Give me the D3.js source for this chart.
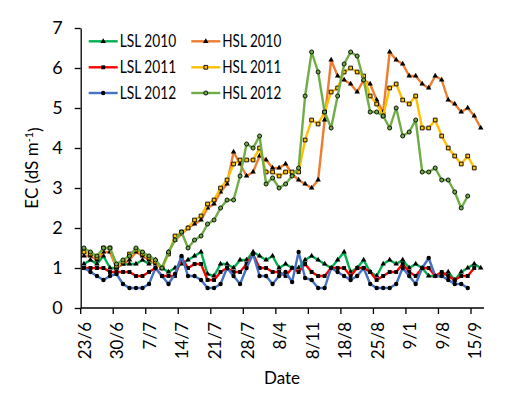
<!DOCTYPE html>
<html>
<head>
<meta charset="utf-8">
<script src="https://cdn.jsdelivr.net/npm/d3@7"></script>
<style>
  html, body { margin: 0; padding: 0; background: #fff; }
  #plot { width: 530px; height: 398px; }
  #plot text { font-family: Lato, "Open Sans", sans-serif; fill: #000; }
</style>
</head>
<body>
<div id="plot"></div>
<script>
// tick labels, one every 5 sampling days
var tickLabels = ["23/6", "30/6", "7/7", "14/7", "21/7", "28/7", "8/4", "8/11", "18/8", "25/8", "9/1", "9/8", "15/9"];
var nDays = 62;

// EC values (dS m-1), one per sampling day
var lsl2010 = [1.1, 1.2, 1.1, 1.3, 1.0, 1.0, 1.1, 1.1, 1.1, 1.2,
               1.1, 1.2, 1.0, 0.9, 1.0, 1.1, 1.2, 1.3, 1.4, 0.85,
               0.8, 1.1, 1.1, 1.0, 1.2, 1.2, 1.4, 1.3, 1.2, 1.3,
               1.0, 1.1, 1.0, 1.0, 1.2, 1.3, 1.2, 1.1, 1.0, 1.2,
               1.4, 0.9, 1.0, 1.2, 0.9, 0.8, 1.1, 1.2, 1.1, 1.2,
               1.0, 1.1, 1.0, 0.8, 0.8, 0.8, 0.9, 0.7, 0.9, 1.0,
               1.1, 1.0];
var lsl2011 = [1.0, 1.0, 1.0, 1.0, 0.9, 0.9, 0.9, 0.9, 0.8, 0.8,
               0.9, 1.0, 0.8, 0.8, 0.8, 1.25, 1.0, 1.1, 1.1, 0.7,
               0.7, 0.9, 1.0, 0.9, 0.9, 1.1, 1.35, 1.0, 1.0, 0.9,
               0.9, 0.8, 1.0, 0.9, 1.1, 0.9, 0.8, 0.8, 1.0, 1.0,
               1.0, 0.8, 1.0, 1.0, 0.9, 0.7, 0.8, 0.9, 0.9, 1.1,
               0.9, 0.8, 1.0, 1.0, 0.8, 0.9, 0.8, 0.7, 0.8, 0.8,
               1.0];
var lsl2012 = [1.0, 0.9, 0.8, 0.7, 0.8, 0.85, 0.6, 0.5, 0.5, 0.5,
               0.6, 1.0, 0.8, 0.6, 0.85, 1.3, 0.8, 0.8, 0.7, 0.5,
               0.5, 0.6, 1.0, 0.8, 0.6, 1.0, 1.35, 0.8, 0.8, 0.6,
               0.8, 0.9, 0.65, 1.4, 0.75, 0.7, 0.5, 0.5, 1.0, 0.9,
               0.8, 0.7, 0.8, 1.0, 0.6, 0.5, 0.5, 0.5, 0.6, 1.0,
               0.8, 0.6, 1.0, 1.25, 0.8, 0.8, 0.7, 0.6, 0.6, 0.5];
var hsl2010 = [1.3, 1.3, 1.2, 1.4, 1.4, 1.0, 1.1, 1.2, 1.4, 1.3,
               1.2, 1.1, 1.0, 1.4, 1.7, 1.85, 2.0, 2.1, 2.2, 2.5,
               2.6, 2.9, 3.1, 3.9, 3.6, 3.3, 3.4, 3.8, 3.7, 3.5,
               3.5, 3.6, 3.35, 3.2, 3.1, 3.0, 3.2, 4.7, 6.2, 5.8,
               5.7, 5.6, 5.4, 5.7, 5.6, 5.2, 4.9, 6.4, 6.2, 6.1,
               5.8, 5.8, 5.6, 5.5, 5.8, 5.7, 5.2, 5.1, 4.9, 5.0,
               4.8, 4.5];
var hsl2011 = [1.4, 1.35, 1.25, 1.5, 1.5, 1.05, 1.15, 1.35, 1.45, 1.35,
               1.25, 1.15, 1.0, 1.35, 1.8, 1.9, 2.0, 2.2, 2.3, 2.6,
               2.7, 3.0, 3.2, 3.6, 3.7, 3.7, 3.7, 4.0, 3.4, 3.4,
               3.3, 3.4, 3.4, 3.4, 4.2, 4.7, 4.6, 4.9, 5.4, 5.5,
               5.9, 6.0, 5.9, 5.8, 5.3, 5.1, 4.8, 5.5, 5.6, 5.2,
               5.1, 5.3, 4.5, 4.5, 4.7, 4.3, 4.0, 3.8, 3.6, 3.8,
               3.5];
var hsl2012 = [1.5, 1.4, 1.3, 1.5, 1.5, 1.1, 1.2, 1.3, 1.5, 1.4,
               1.3, 1.2, 1.0, 1.4, 1.7, 1.9, 1.5, 1.7, 1.8, 2.1,
               2.2, 2.5, 2.7, 2.7, 3.3, 4.1, 4.0, 4.3, 3.1, 3.25,
               3.0, 3.1, 3.3, 3.5, 5.3, 6.4, 5.9, 4.9, 4.5, 5.3,
               6.1, 6.4, 6.3, 5.7, 4.9, 4.9, 4.8, 4.5, 5.0, 4.3,
               4.4, 4.7, 3.4, 3.4, 3.5, 3.2, 3.2, 2.9, 2.5, 2.8];

var seriesNames = ["LSL 2010", "LSL 2011", "LSL 2012", "HSL 2010", "HSL 2011", "HSL 2012"];
var seriesValues = [lsl2010, lsl2011, lsl2012, hsl2010, hsl2011, hsl2012];
var seriesColors = ["#00B050", "#FF0000", "#4472C4", "#ED7D31", "#FFC000", "#70AD47"];

// marker style per series
var markers = [
    {type: d3.symbolTriangle, size: 13, fill: "#000", stroke: "none"},
    {type: d3.symbolSquare, size: 15, fill: "#000", stroke: "none"},
    {type: d3.symbolCircle, size: 15, fill: "#000", stroke: "none"},
    {type: d3.symbolTriangle, size: 13, fill: "#000", stroke: "none"},
    {type: d3.symbolSquare, size: 14, fill: "#FFC000", stroke: "#000"},
    {type: d3.symbolCircle, size: 13, fill: "#70AD47", stroke: "#000"}
];

var width = 530, height = 398;
var svg = d3.select("#plot").append("svg")
    .attr("width", width)
    .attr("height", height);

svg.append("rect").attr("width", width).attr("height", height).style("fill", "#fff");

var x = d3.scaleBand()
    .domain(d3.range(nDays))
    .range([80.7, 484]);
var bw = x.bandwidth();
var y = d3.scaleLinear().domain([0, 7]).range([308, 28]);

function cx(i) { return x(i) + bw / 2; }

// y axis
var yAxis = svg.append("g")
    .attr("transform", "translate(80.7,0)")
    .call(d3.axisLeft(y).ticks(7).tickSize(6).tickSizeOuter(0).tickPadding(12));
yAxis.select(".domain").style("stroke", "#000").style("stroke-width", 1.3);
yAxis.selectAll(".tick line").style("stroke", "#000").style("stroke-width", 1.3);
yAxis.selectAll(".tick text")
    .style("font-size", "18px")
    .style("font-family", "Lato, sans-serif");

// x axis : ticks on category boundaries, labels on category centres
var tickIdx = d3.range(0, nDays, 5);
var xg = svg.append("g");
xg.append("line")
    .attr("x1", 80.7).attr("x2", 484)
    .attr("y1", 308).attr("y2", 308)
    .style("stroke", "#000").style("stroke-width", 1.3);
xg.selectAll(".xtick")
    .data(tickIdx)
    .enter().append("line")
    .attr("class", "xtick")
    .attr("x1", function(d) { return x(d); })
    .attr("x2", function(d) { return x(d); })
    .attr("y1", 308).attr("y2", 314)
    .style("stroke", "#000").style("stroke-width", 1.3);
xg.selectAll(".xlab")
    .data(tickIdx)
    .enter().append("text")
    .attr("class", "xlab")
    .attr("transform", function(d) { return "translate(" + (cx(d) + 1) + ",322) rotate(-90)"; })
    .attr("text-anchor", "end")
    .attr("dy", "0.35em")
    .style("font-size", "17px")
    .text(function(d, i) { return tickLabels[i]; });

// axis titles
svg.append("text")
    .attr("x", 282).attr("y", 384)
    .attr("text-anchor", "middle")
    .style("font-size", "17px")
    .text("Date");

var yt = svg.append("text")
    .attr("transform", "translate(38,168) rotate(-90)")
    .attr("text-anchor", "middle")
    .style("font-size", "17px");
yt.append("tspan").text("EC (dS m");
yt.append("tspan").attr("dy", "-0.45em").style("font-size", "11px").text("-1");
yt.append("tspan").attr("dy", "0.45em").text(")");

// lines and markers
var line = d3.line()
    .x(function(d, i) { return cx(i); })
    .y(function(d) { return y(d); });

seriesValues.forEach(function(vals, s) {
    var g = svg.append("g").attr("class", "series");
    g.append("path")
        .datum(vals)
        .attr("d", line)
        .style("fill", "none")
        .style("stroke", seriesColors[s])
        .style("stroke-width", 2.4)
        .style("stroke-linejoin", "round");
    var m = markers[s];
    g.selectAll(".dot")
        .data(vals)
        .enter().append("path")
        .attr("class", "dot")
        .attr("transform", function(d, i) { return "translate(" + cx(i) + "," + y(d) + ")"; })
        .attr("d", d3.symbol().type(m.type).size(m.size))
        .style("fill", m.fill)
        .style("stroke", m.stroke)
        .style("stroke-width", 0.9);
});

// legend
var legendPos = [[88.7, 41.3], [88.7, 67.3], [88.7, 93], [191.3, 41.3], [191.3, 67.3], [191.3, 93]];
var legend = svg.append("g").attr("class", "legend");
seriesNames.forEach(function(name, s) {
    var p = legendPos[s];
    var g = legend.append("g").attr("transform", "translate(" + p[0] + "," + p[1] + ")");
    g.append("line")
        .attr("x1", 0).attr("x2", 29)
        .style("stroke", seriesColors[s])
        .style("stroke-width", 2.4);
    var m = markers[s];
    g.append("path")
        .attr("transform", "translate(14.5,0)")
        .attr("d", d3.symbol().type(m.type).size(m.size))
        .style("fill", m.fill)
        .style("stroke", m.stroke)
        .style("stroke-width", 0.9);
    g.append("text")
        .attr("x", 31).attr("dy", "0.36em")
        .attr("textLength", s < 3 ? 56.5 : 59)
        .attr("lengthAdjust", "spacingAndGlyphs")
        .style("font-size", "17px")
        .text(name);
});
</script>
</body>
</html>
